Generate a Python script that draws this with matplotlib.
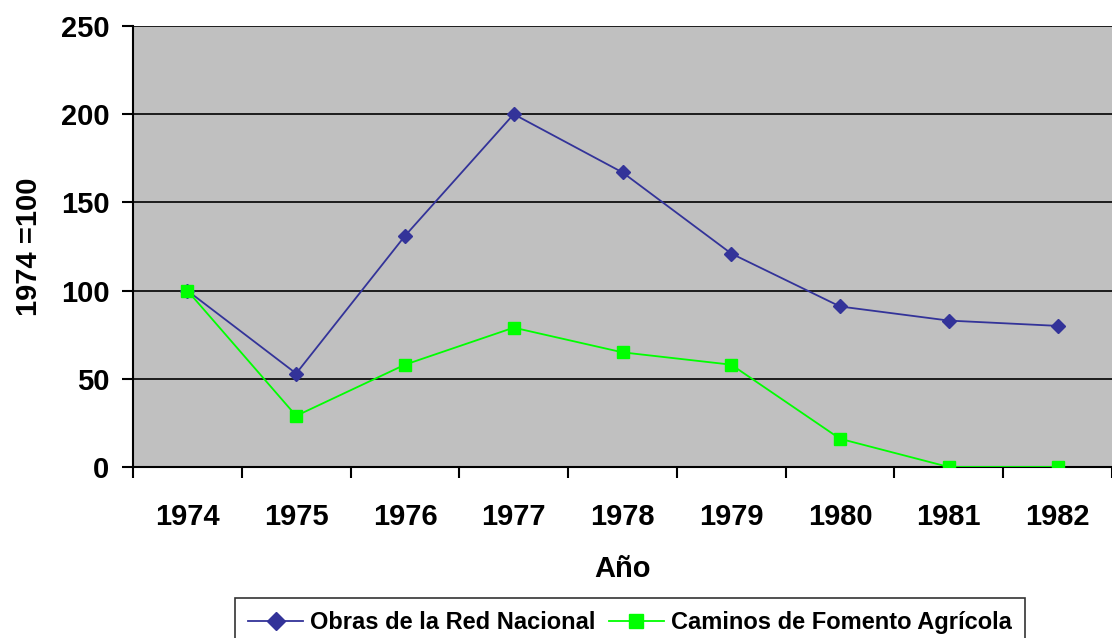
import matplotlib
matplotlib.use("Agg")
import matplotlib.pyplot as plt
import numpy as np

years = ["1974", "1975", "1976", "1977", "1978", "1979", "1980", "1981", "1982"]
obras = [100, 53, 131, 200, 167, 121, 91, 83, 80]
caminos = [100, 29, 58, 79, 65, 58, 16, 0, 0]
yticks = [0, 50, 100, 150, 200, 250]

plt.rcParams['font.family'] = ['Liberation Sans', 'DejaVu Sans']
plt.rcParams['font.weight'] = 'bold'

fig = plt.figure(figsize=(11.12, 6.38), dpi=100)
ax = fig.add_axes([133/1112, 1-467/638, 1-133/1112, (467-26)/638])
ax.set_facecolor('#C0C0C0')

x = np.arange(len(years)) + 0.5
ax.plot(x, obras, color='#333399', lw=1.3, marker='D', ms=7.5, mfc='#333399', mec='#333399',
        label='Obras de la Red Nacional', zorder=3)
ax.plot(x, caminos, color='#00FF00', lw=1.3, marker='s', ms=8, mfc='#00FF00', mec='#00FF00',
        label='Caminos de Fomento Agrícola', zorder=3)

ax.set_xlim(0, len(years))
ax.set_ylim(0, 250)
ax.set_yticks(yticks)
ax.set_yticklabels([str(v) for v in yticks], fontsize=21, fontweight='bold')
ax.set_xticks(np.arange(len(years) + 1))
ax.set_xticklabels([])
ax.set_xticks(x, minor=True)
ax.set_xticklabels(years, minor=True, fontsize=21, fontweight='bold')
ax.tick_params(axis='x', which='minor', length=0, pad=26)
ax.tick_params(axis='x', which='major', length=8, width=1.5, direction='out')
ax.tick_params(axis='y', length=8, width=1.5, direction='out', pad=9)
ax.grid(axis='y', color='black', lw=1.2)
ax.set_axisbelow(True)
for s in ['top', 'right']:
    ax.spines[s].set_visible(False)
for s in ['left', 'bottom']:
    ax.spines[s].set_linewidth(1.5)

ax.set_xlabel('Año', fontsize=21, fontweight='bold', labelpad=17)
ax.set_ylabel('1974 =100', fontsize=21, fontweight='bold', labelpad=13)

leg = fig.legend(loc='upper center', bbox_to_anchor=(0.5665, 0.0627), ncol=2, frameon=True,
                 fancybox=False, edgecolor='black', handlelength=2.3,
                 columnspacing=0.6, handletextpad=0.3, borderpad=0.55, borderaxespad=0,
                 markerscale=1.2, prop={'weight': 'bold', 'size': 17})
leg.get_frame().set_linewidth(1.2)

fig.savefig('out.png', dpi=100)
